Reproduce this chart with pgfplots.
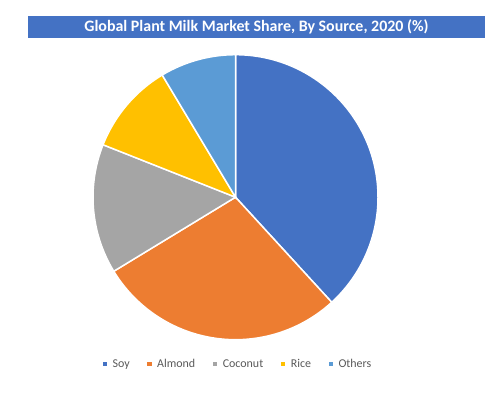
\documentclass[border=0pt]{standalone}
\usepackage{fontspec}
\setmainfont{Carlito}
\usepackage{pgfplots}
\usepackage{pgfplotstable}
\pgfplotsset{compat=1.18}
\definecolor{pc0}{HTML}{4472C4}
\definecolor{pc1}{HTML}{ED7D31}
\definecolor{pc2}{HTML}{A5A5A5}
\definecolor{pc3}{HTML}{FFC000}
\definecolor{pc4}{HTML}{5B9BD5}
\definecolor{titlebar}{HTML}{4472C4}
\definecolor{legtext}{HTML}{595959}

\pgfplotstableread{
name value
Soy 38.2
Almond 28.1
Coconut 14.7
Rice 10.4
Others 8.6
}\piedata

\newcommand{\lf}{\fontsize{12}{14}\selectfont}

\begin{document}
\begin{tikzpicture}
\def\cum{90}
\pgfplotstableforeachcolumnelement{value}\of\piedata\as\v{%
  \pgfmathsetmacro\endang{\cum-3.6*\v}%
  \expandafter\xdef\csname pS\pgfplotstablerow\endcsname{\cum}%
  \expandafter\xdef\csname pE\pgfplotstablerow\endcsname{\endang}%
  \xdef\cum{\endang}%
}
\useasboundingbox (0,0) rectangle (500bp,-398bp);
\fill[titlebar] (28bp,-16bp) rectangle (485bp,-38bp);
\node[text=white, font=\bfseries\fontsize{16}{18}\selectfont, inner sep=0pt] at (256.5bp,-27bp) {Global Plant Milk Market Share, By Source, 2020 (\%)};
\begin{axis}[
  at={(235.5bp,-197.2bp)}, anchor=origin,
  x=142.5bp, y=142.5bp,
  xmin=-1, xmax=1, ymin=-1, ymax=1,
  hide axis, clip=false,
  legend columns=5,
  legend image code/.code={\fill[#1] (0bp,-2.3bp) rectangle (4.6bp,2.3bp);},
  legend style={at={(0.505,-0.0853)}, anchor=center, draw=none, fill=none,
    text=legtext, nodes={inner sep=0pt},
    /tikz/every odd column/.append style={column sep=5.4bp},
    /tikz/every even column/.append style={column sep=17.5bp}},
]
\pgfplotsinvokeforeach{0,1,2,3,4}{%
  \edef\tmp{\noexpand\fill[pc#1, draw=white, line width=1.5bp] (axis cs:0,0) -- (axis cs:{cos(\csname pS#1\endcsname)},{sin(\csname pS#1\endcsname)}) arc[start angle=\csname pS#1\endcsname, end angle=\csname pE#1\endcsname, radius=142.5bp] -- cycle;}\tmp
}
\addlegendimage{fill=pc0, draw=none}\addlegendentry{\lf Soy}
\addlegendimage{fill=pc1, draw=none}\addlegendentry{\lf Almond}
\addlegendimage{fill=pc2, draw=none}\addlegendentry{\lf Coconut}
\addlegendimage{fill=pc3, draw=none}\addlegendentry{\lf Rice}
\addlegendimage{fill=pc4, draw=none}\addlegendentry{\lf Others}
\end{axis}
\end{tikzpicture}
\end{document}
